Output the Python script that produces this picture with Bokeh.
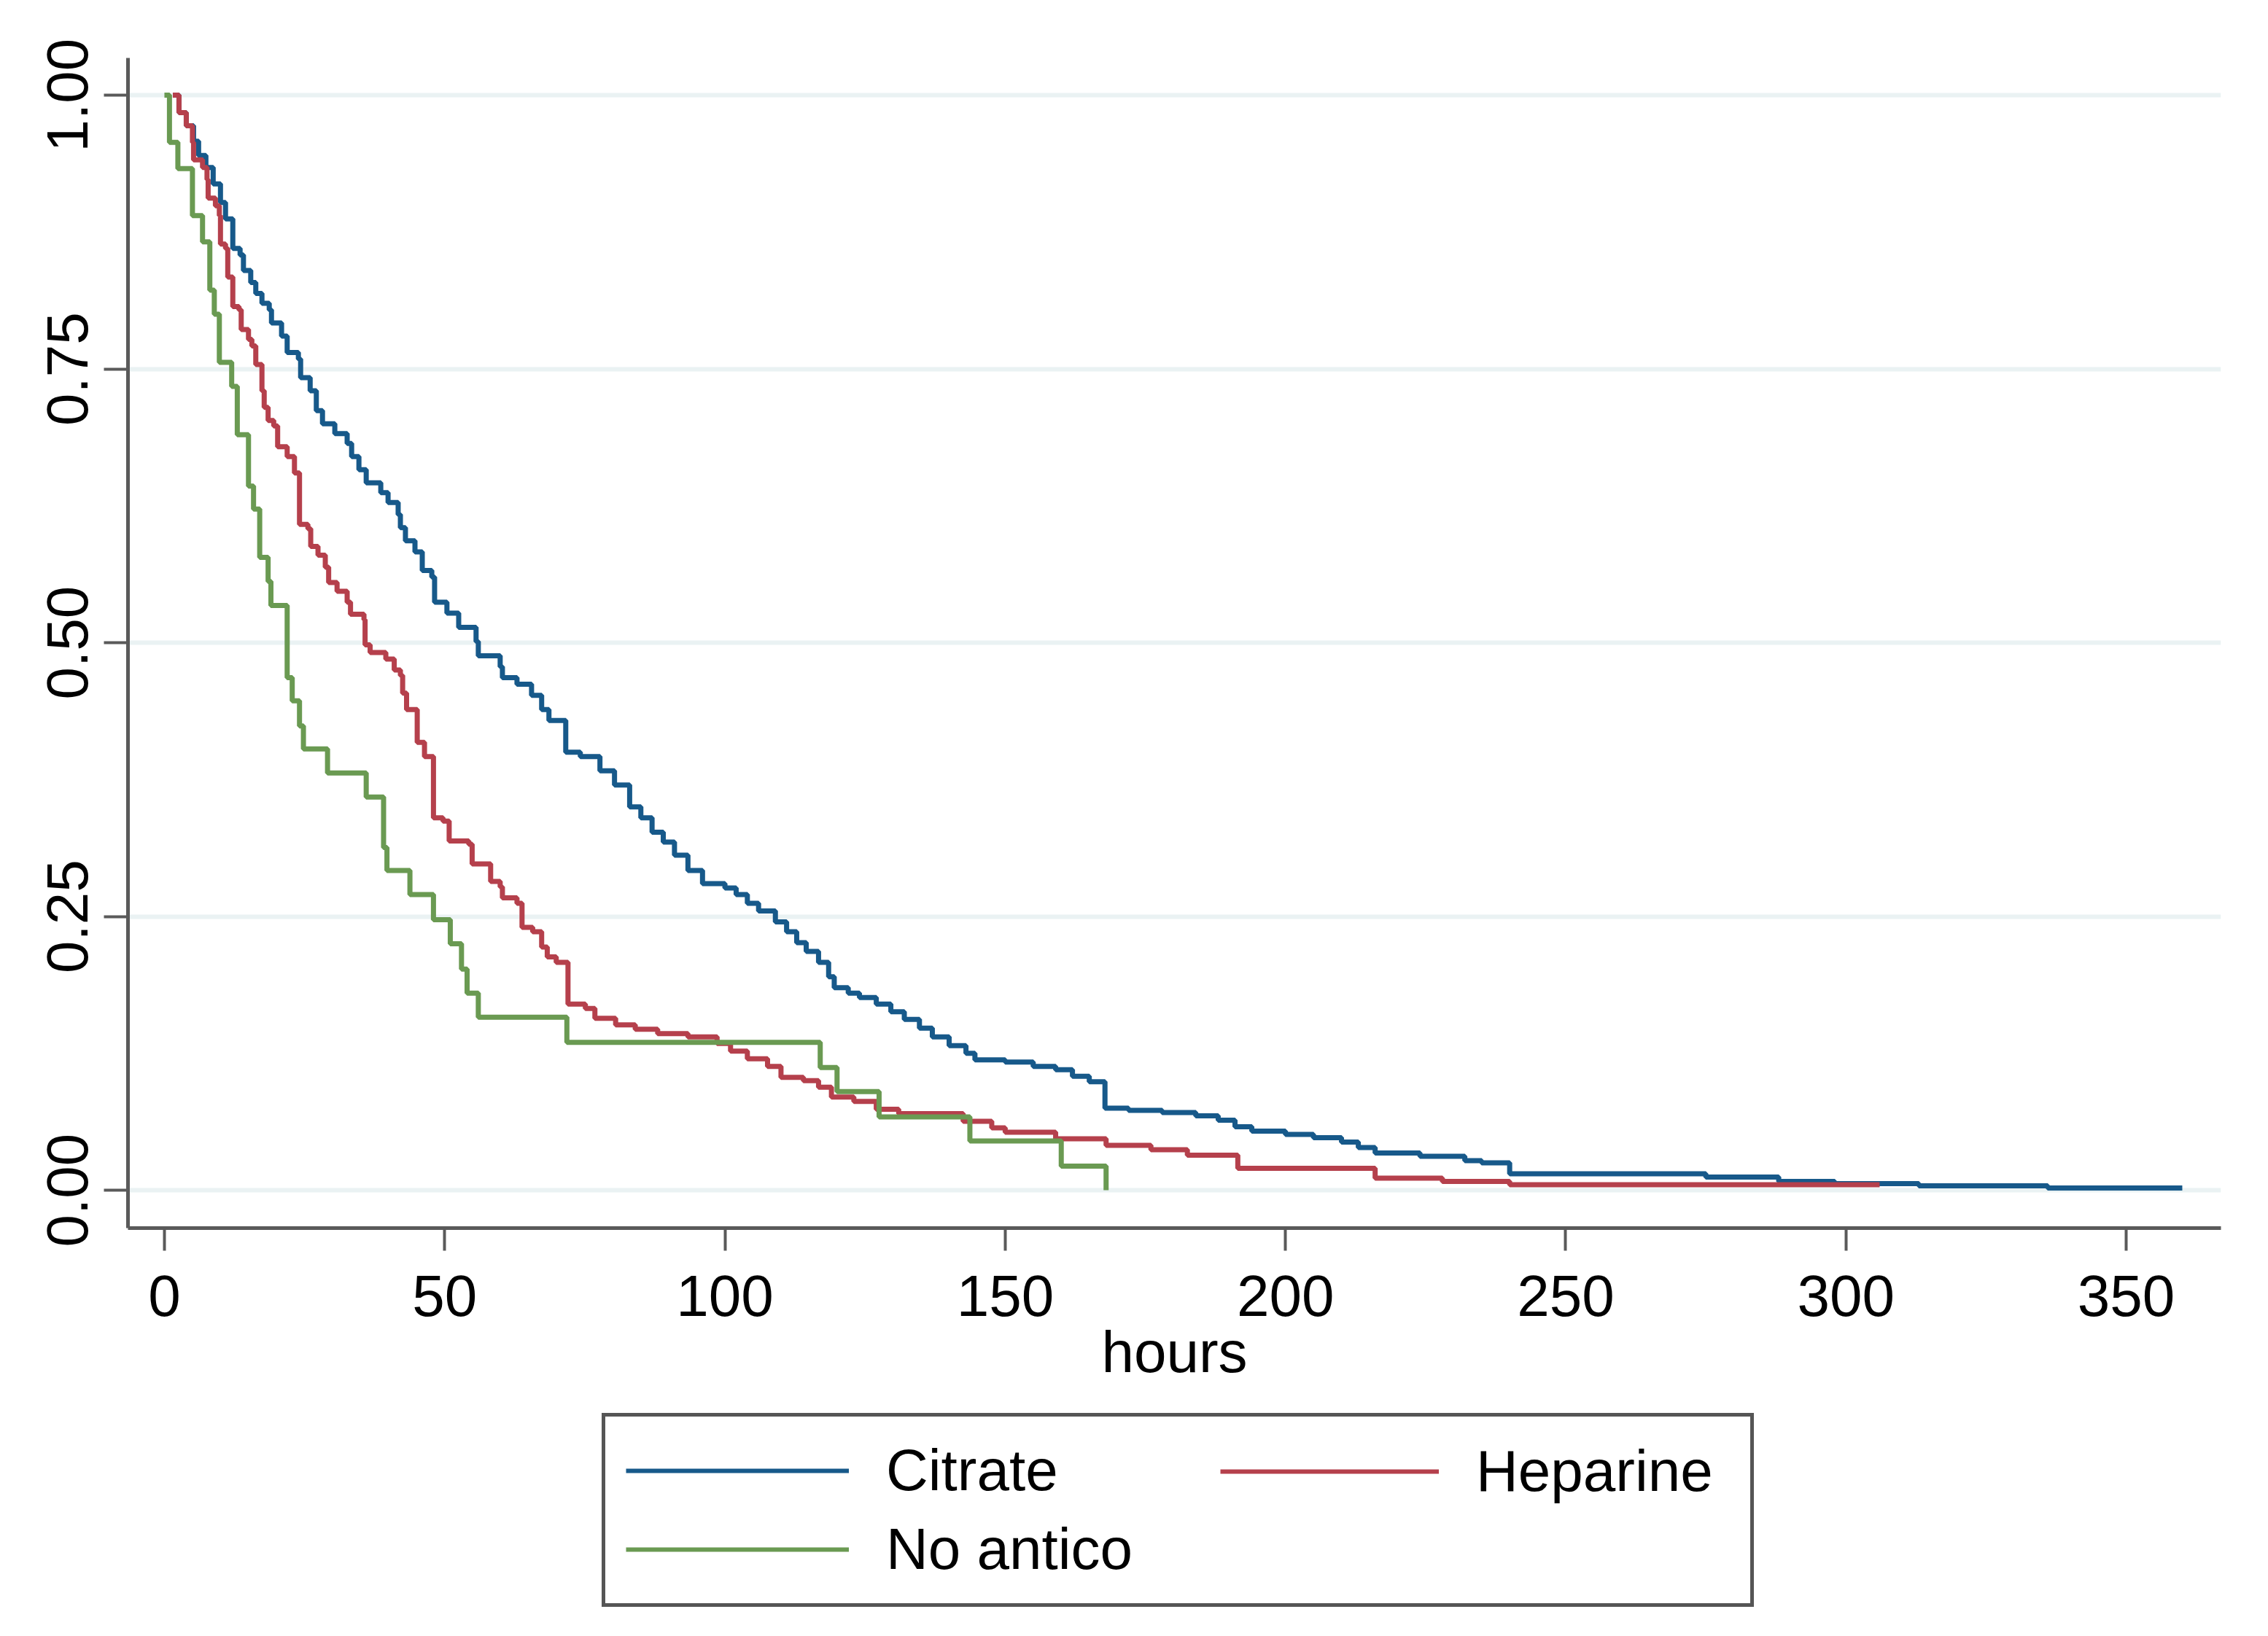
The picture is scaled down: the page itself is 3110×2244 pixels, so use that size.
from bokeh.plotting import figure
from bokeh.models import Range1d, FixedTicker, NumeralTickFormatter, Legend, LegendItem
from bokeh.layouts import column
from bokeh.embed import file_html
from bokeh.resources import INLINE

# Kaplan-Meier step curves (time in hours, survival after the step)
citrate_t = [1.5, 2.6, 3.9, 5.2, 6.1, 7.4, 8.7, 10.0, 10.9, 12.2, 13.5, 14.1, 15.4, 16.3, 17.4, 18.7,
             19.1, 20.9, 21.9, 23.9, 24.3, 26.0, 27.1, 28.2, 30.4, 32.6, 33.4, 34.7, 36.0, 38.6, 39.9,
             41.7, 42.1, 43.0, 44.7, 46.0, 47.7, 48.2, 50.4, 52.5, 55.6, 56.0, 59.9, 60.3, 62.9, 65.5,
             67.3, 68.6, 71.6, 74.2, 77.7, 80.3, 83, 85, 87, 89, 91, 93.4, 96, 100, 102, 104, 106, 109,
             111, 112.8, 114.5, 116.7, 118.5, 119.5, 122, 124, 127, 129.6, 132, 134.7, 137, 140, 143,
             144.6, 150, 155, 159, 162, 165, 167.8, 172, 178, 184, 188, 191, 194, 200, 205, 210, 213,
             216, 224, 232, 235, 240, 275, 288, 298, 313, 336, 360]
citrate_s = [1.0, 0.984, 0.972, 0.958, 0.945, 0.934, 0.919, 0.902, 0.887, 0.860, 0.854, 0.840, 0.829,
             0.819, 0.810, 0.804, 0.792, 0.780, 0.765, 0.759, 0.742, 0.730, 0.712, 0.700, 0.691, 0.682,
             0.670, 0.658, 0.646, 0.637, 0.628, 0.617, 0.605, 0.593, 0.583, 0.566, 0.560, 0.537, 0.527,
             0.514, 0.501, 0.488, 0.478, 0.468, 0.462, 0.452, 0.439, 0.429, 0.400, 0.396, 0.383, 0.370,
             0.350, 0.340, 0.327, 0.318, 0.306, 0.292, 0.280, 0.276, 0.270, 0.262, 0.255, 0.245, 0.236,
             0.226, 0.218, 0.208, 0.195, 0.185, 0.180, 0.176, 0.170, 0.163, 0.156, 0.148, 0.140, 0.132,
             0.125, 0.119, 0.117, 0.113, 0.110, 0.104, 0.099, 0.075, 0.073, 0.071, 0.068, 0.064, 0.058,
             0.054, 0.051, 0.048, 0.044, 0.039, 0.034, 0.031, 0.027, 0.025, 0.015, 0.012, 0.008, 0.006,
             0.004, 0.002, 0.002]

heparine_t = [1.5, 2.6, 3.9, 5.0, 5.2, 6.8, 7.6, 7.8, 9.1, 9.8, 10.0, 10.9, 11.3, 12.2, 13.3, 13.7,
              15.0, 15.6, 16.3, 17.4, 17.8, 18.5, 19.5, 20.2, 21.9, 23.2, 24.1, 25.6, 26.1, 27.4, 28.7,
              29.3, 30.8, 32.6, 33.2, 35.6, 35.8, 36.7, 39.5, 41.0, 42.1, 42.5, 43.2, 45.1, 46.4, 48.0,
              49.7, 50.8, 54.3, 54.9, 58.2, 59.9, 60.3, 62.9, 63.8, 65.7, 67.3, 68.3, 69.9, 72.0, 75.1,
              76.8, 80.5, 84, 88, 93.4, 98.6, 101, 104, 107.6, 110, 114, 116.7, 119, 123, 127, 131,
              142.5, 147.6, 150, 159, 168, 176, 182.5, 191.5, 216, 228, 240, 306]
heparine_s = [1.0, 0.984, 0.972, 0.957, 0.941, 0.934, 0.923, 0.906, 0.899, 0.890, 0.864, 0.860, 0.834,
              0.807, 0.804, 0.786, 0.777, 0.771, 0.754, 0.730, 0.715, 0.703, 0.698, 0.679, 0.670, 0.655,
              0.608, 0.604, 0.588, 0.580, 0.569, 0.555, 0.547, 0.537, 0.526, 0.521, 0.498, 0.491, 0.485,
              0.475, 0.470, 0.454, 0.439, 0.409, 0.396, 0.340, 0.337, 0.319, 0.316, 0.298, 0.282, 0.277,
              0.267, 0.262, 0.240, 0.236, 0.222, 0.213, 0.208, 0.170, 0.166, 0.157, 0.151, 0.147, 0.143,
              0.140, 0.134, 0.127, 0.120, 0.113, 0.103, 0.100, 0.094, 0.085, 0.081, 0.074, 0.070, 0.063,
              0.057, 0.053, 0.047, 0.041, 0.037, 0.032, 0.020, 0.011, 0.008, 0.005, 0.005]

noantico_t = [0, 0.9, 2.4, 5.0, 6.8, 8.1, 8.9, 9.8, 12.0, 13.0, 15.0, 15.9, 17.0, 18.5, 19.0, 21.9,
              22.8, 24.1, 24.8, 29.1, 36.0, 39.1, 39.7, 43.8, 48.0, 51.0, 53.0, 54.0, 56.0, 71.8, 117,
              120, 127.5, 143.7, 160, 168]
noantico_s = [1.0, 0.957, 0.933, 0.890, 0.866, 0.822, 0.800, 0.756, 0.734, 0.690, 0.643, 0.622, 0.578,
              0.556, 0.534, 0.468, 0.447, 0.424, 0.403, 0.381, 0.359, 0.313, 0.292, 0.270, 0.247, 0.225,
              0.202, 0.180, 0.158, 0.135, 0.112, 0.090, 0.067, 0.045, 0.022, 0.0]

series_names = ["Citrate", "Heparine", "No antico"]
series_colors = ["#17598a", "#b5404c", "#6a9a52"]
x_ticks = [0, 50, 100, 150, 200, 250, 300, 350]
y_ticks = [0.0, 0.25, 0.5, 0.75, 1.0]

FONT = "Liberation Sans"
AX = "#5a5a5a"
W = 3094
H_MAIN = 1919
H_LEG = 2228 - H_MAIN
BL, BR = 175, 49

p = figure(width=W, height=H_MAIN, output_backend="svg", toolbar_location=None,
           x_range=Range1d(-6.5, 366.9), y_range=Range1d(-0.0346, 1.034),
           min_border_left=BL, min_border_right=BR, min_border_top=79, min_border_bottom=235)
p.outline_line_color = None
p.background_fill_color = "white"
p.border_fill_color = "white"

p.xgrid.visible = False
p.ygrid.grid_line_color = "#eaf2f3"
p.ygrid.grid_line_width = 6
p.ygrid.ticker = FixedTicker(ticks=y_ticks)

p.xaxis.ticker = FixedTicker(ticks=x_ticks)
p.yaxis.ticker = FixedTicker(ticks=y_ticks)
p.yaxis.formatter = NumeralTickFormatter(format="0.00")
p.yaxis.major_label_orientation = "vertical"

for ax in (p.xaxis, p.yaxis):
    ax.axis_line_color = AX
    ax.axis_line_width = 5
    ax.major_tick_line_color = AX
    ax.major_tick_line_width = 4
    ax.major_tick_in = 0
    ax.minor_tick_line_color = None
    ax.major_label_text_font = FONT
    ax.major_label_text_font_size = "80px"
    ax.major_label_text_color = "#000000"

p.xaxis.major_tick_out = 31
p.yaxis.major_tick_out = 33
p.xaxis.major_label_standoff = 34
p.yaxis.major_label_standoff = 22
p.xaxis.axis_label = "hours"
p.xaxis.axis_label_text_font = FONT
p.xaxis.axis_label_text_font_size = "80px"
p.xaxis.axis_label_text_font_style = "normal"
p.xaxis.axis_label_text_color = "#000000"
p.xaxis.axis_label_standoff = 2

data = [(citrate_t, citrate_s), (heparine_t, heparine_s), (noantico_t, noantico_s)]
for (t, s), c in zip(data, series_colors):
    p.step(t, s, mode="after", line_color=c, line_width=7)

# Legend panel: a separate axis-less figure below the chart, frame aligned with the chart
pl = figure(width=W, height=H_LEG, output_backend="svg", toolbar_location=None,
            x_range=Range1d(0, 1), y_range=Range1d(0, 1),
            x_axis_location=None, y_axis_location=None,
            min_border_left=BL, min_border_right=BR, min_border_top=0, min_border_bottom=0)
pl.grid.visible = False
pl.outline_line_color = None
pl.background_fill_color = "white"
pl.border_fill_color = "white"
nan = float("nan")
leg_r = [pl.line([nan], [nan], line_color=c, line_width=6) for c in series_colors]

common = dict(label_text_font=FONT, label_text_font_size="80px", label_text_color="#000000",
              glyph_height=82, label_height=82, label_standoff=51, margin=0)
leg_a = Legend(items=[LegendItem(label=series_names[0], renderers=[leg_r[0]]),
                      LegendItem(label=series_names[2], renderers=[leg_r[2]])],
               location=(650, 24), orientation="vertical",
               glyph_width=306, label_width=1157, spacing=16, padding=28,
               border_line_color="#555555", border_line_width=5, border_line_alpha=1.0,
               background_fill_color="white", background_fill_alpha=1.0, **common)
leg_b = Legend(items=[LegendItem(label=series_names[1], renderers=[leg_r[1]])],
               location=(1498, 164), orientation="vertical",
               glyph_width=300, padding=0, border_line_color=None,
               background_fill_alpha=0.0, **common)
pl.add_layout(leg_a, "center")
pl.add_layout(leg_b, "center")

layout = column(p, pl, spacing=0)
open("out.html", "w").write(file_html(layout, INLINE))
